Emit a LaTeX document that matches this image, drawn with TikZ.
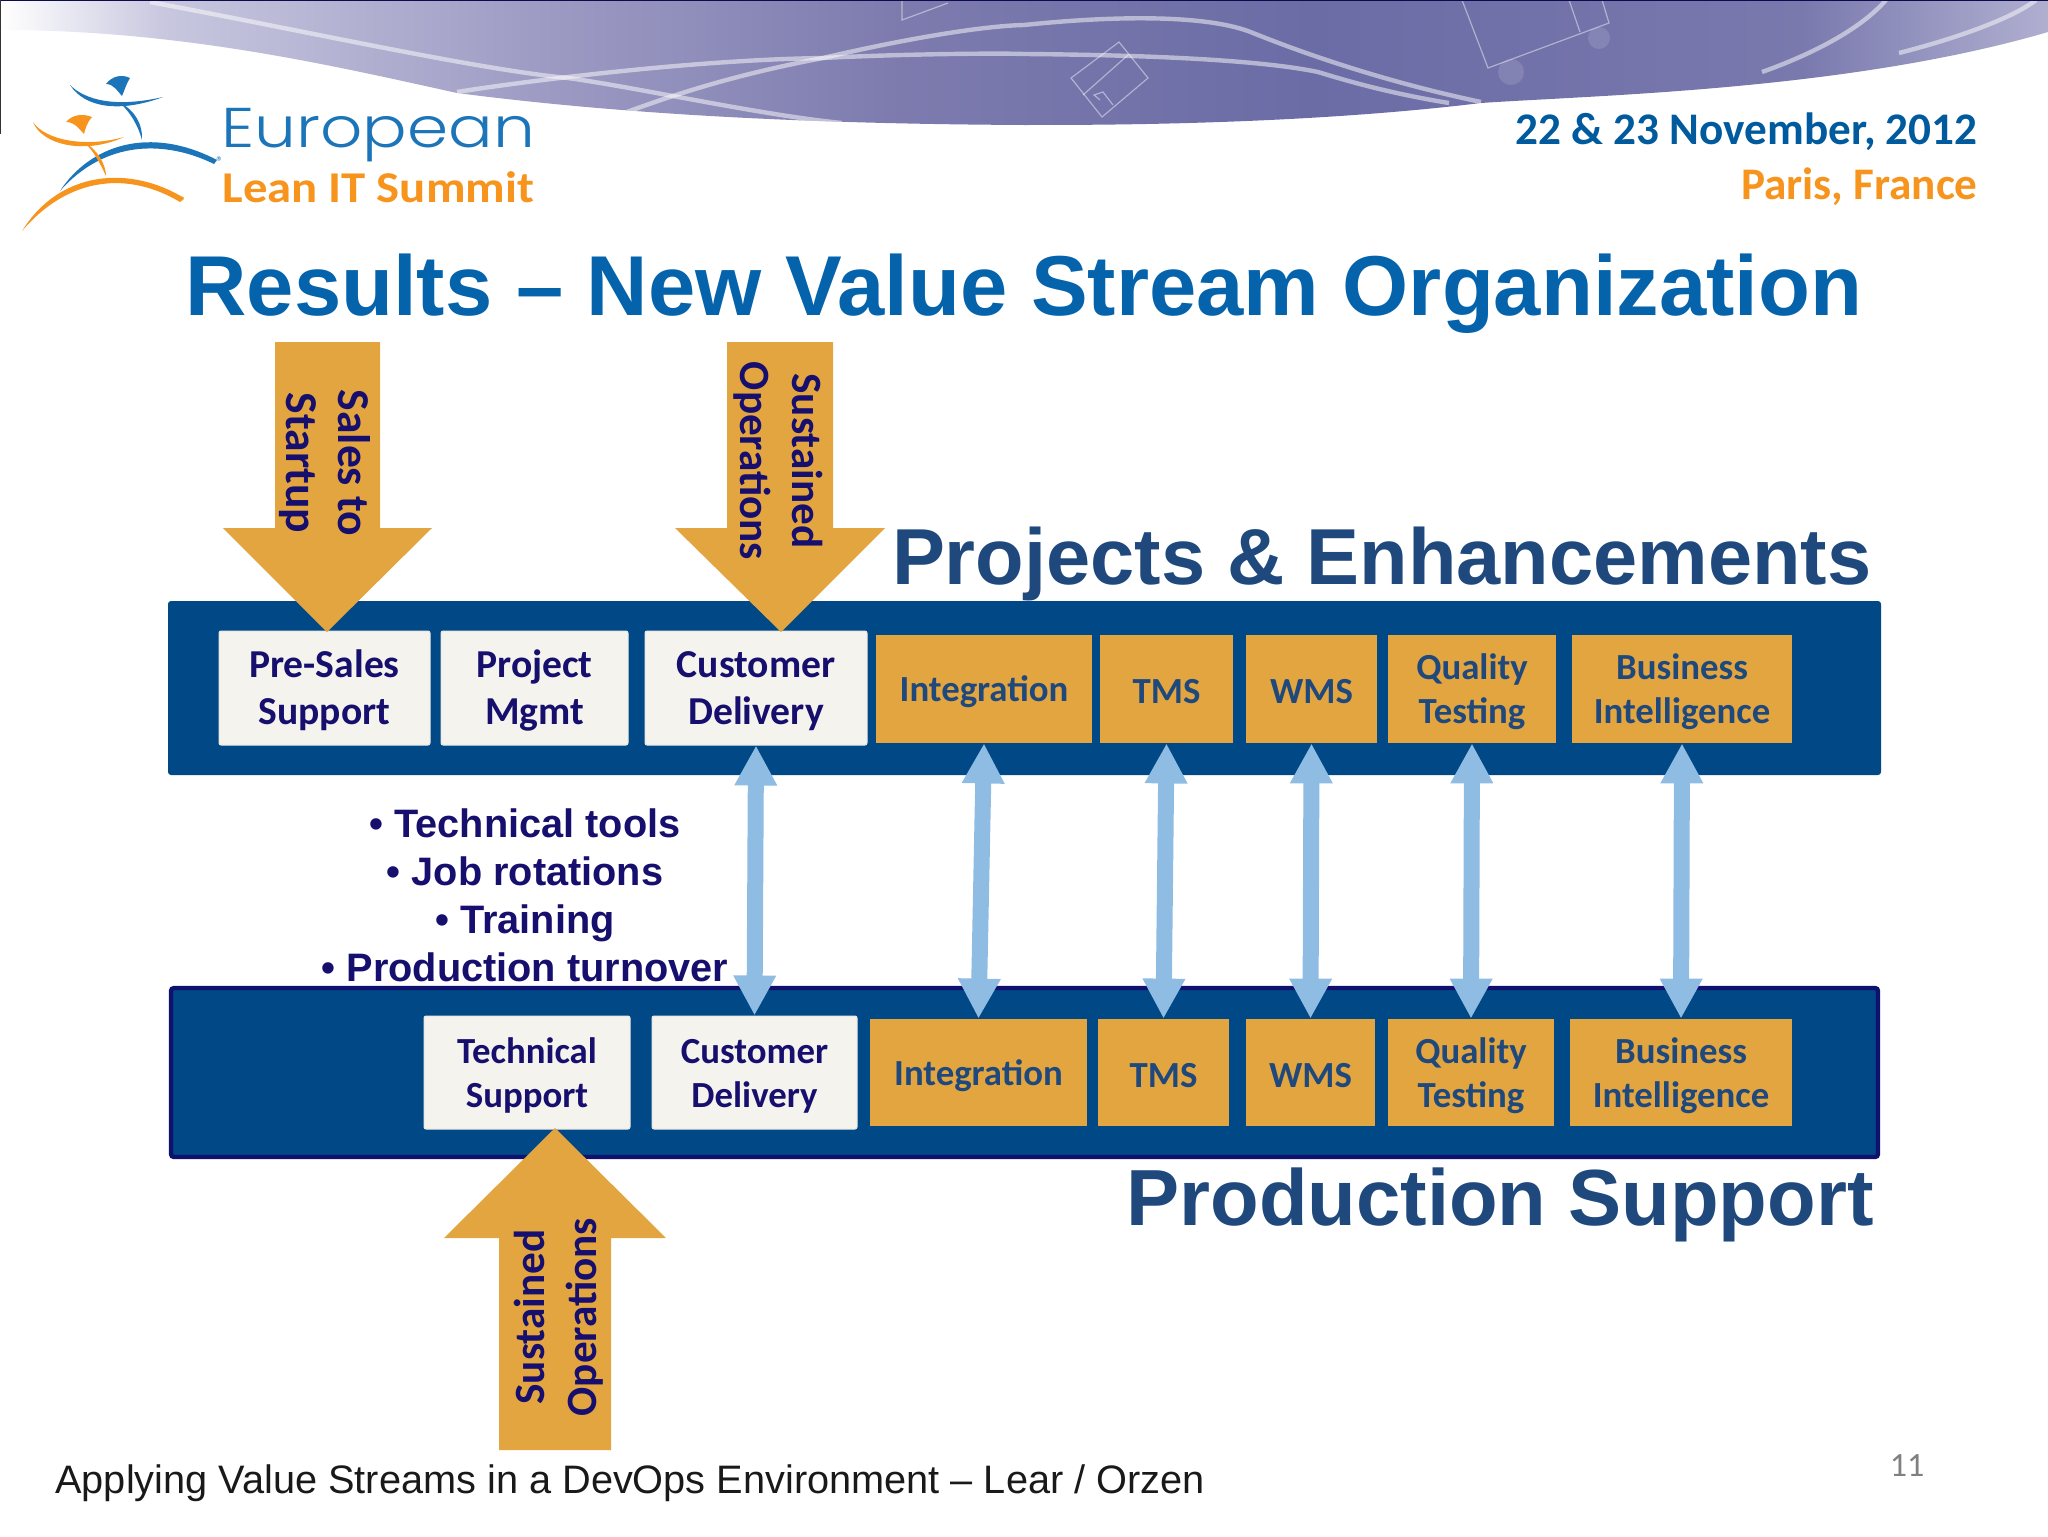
\documentclass[tikz,border=0pt]{standalone}
\usepackage{graphicx}
\usepackage{fontspec}
\usetikzlibrary{arrows.meta}
\setmainfont{Liberation Sans}
\newfontfamily\calb{Carlito}
\newfontfamily\logofont{Poppins Light}
\definecolor{bandblue}{HTML}{014886}
\definecolor{navyline}{HTML}{10106E}
\definecolor{navytext}{HTML}{170F6E}
\definecolor{boxwhite}{HTML}{F4F3ED}
\definecolor{boxedge}{HTML}{E9E8E2}
\definecolor{amber}{HTML}{E3A53F}
\definecolor{steel}{HTML}{1F497D}
\definecolor{sky}{HTML}{8FBCE3}
\definecolor{titleblue}{HTML}{0563AC}
\definecolor{logoblue}{HTML}{1C75B8}
\definecolor{logoorange}{HTML}{F7941D}
\definecolor{dateblue}{HTML}{005A9E}
\definecolor{pa}{HTML}{C8C7DF}
\definecolor{pb}{HTML}{9E9CC4}
\definecolor{pc}{HTML}{7D7BAE}
\definecolor{pd}{HTML}{6B6CA6}
\definecolor{pe}{HTML}{7A79AE}
\definecolor{pf}{HTML}{9595C0}
\definecolor{pg}{HTML}{B0AFD0}
\pgfdeclarehorizontalshading{bandshade}{100bp}{color(0bp)=(white); color(25bp)=(white); color(29bp)=(pa); color(38bp)=(pb); color(47bp)=(pc); color(57bp)=(pd); color(69bp)=(pe); color(72bp)=(pf); color(75bp)=(pg); color(100bp)=(pg)}
\tikzset{
  x=0.5pt,y=-0.5pt,
  wbox/.style={draw=boxedge,line width=0.5pt,fill=boxwhite,rounded corners=1pt,inner sep=0pt,align=center,text=navytext},
  obox/.style={fill=amber,inner sep=0pt,align=center,text=steel},
  big/.style={font={\calb\bfseries\fontsize{19.8}{23.5}\selectfont}},
  small/.style={font={\calb\bfseries\fontsize{18.4}{22}\selectfont}},
  dbl/.style={draw=sky,line width=8pt,{Triangle[length=20pt,width=20pt]}-{Triangle[length=20pt,width=20pt]}},
  block/.style={fill=amber},
  vtext/.style={font={\calb\bfseries\fontsize{21.6}{26}\selectfont},text=navytext,align=center,inner sep=0pt},
  sweep/.style={draw=white,opacity=0.5,line width=2.2pt},
  faint/.style={draw=white,opacity=0.45,line width=0.6pt},
}
\newcommand{\bx}[7]{%
  \pgfmathsetmacro\cxx{(#3+#5)/2}%
  \pgfmathsetmacro\cyy{(#4+#6)/2}%
  \pgfmathsetmacro\ww{(#5-#3)/2}%
  \pgfmathsetmacro\hh{(#6-#4)/2}%
  \node[#1,minimum width=\ww pt,minimum height=\hh pt] (#2) at (\cxx,\cyy) {#7};}
\newcommand{\tpa}{\rule{0pt}{16.2pt}}
\newcommand{\tpb}{\rule{0pt}{16pt}}
\newcommand{\tpc}{\rule{0pt}{14.6pt}}
\begin{document}
\begin{tikzpicture}
\useasboundingbox (0,0) rectangle (2048,1536);
% header band
\begin{scope}
\clip (0,0) -- (2048,0) -- (2048,32) .. controls (1850,90) and (1600,95) .. (1481,103) .. controls (1300,125) and (1100,125) .. (1024,125) .. controls (850,124) and (650,118) .. (457,93) .. controls (330,65) and (180,30) .. (0,30) -- cycle;
\shade[shading=bandshade] (0,0) rectangle (2048,130);
\draw[sweep] (150,2) .. controls (300,30) and (480,70) .. (568,78) .. controls (640,88) and (760,115) .. (842,123);
\draw[sweep] (457,92) .. controls (500,85) and (680,60) .. (823,58) .. controls (900,54) and (1000,53) .. (1024,54) .. controls (1150,55) and (1260,60) .. (1318,72) .. controls (1360,85) and (1400,95) .. (1449,103);
\draw[sweep] (627,112) .. controls (700,85) and (760,70) .. (823,58) .. controls (900,40) and (980,26) .. (1024,25) .. controls (1120,15) and (1210,15) .. (1253,33) .. controls (1320,60) and (1400,85) .. (1481,102);
\draw[sweep] (1762,72) .. controls (1810,55) and (1860,30) .. (1886,0);
\draw[sweep] (1899,53) .. controls (1950,40) and (2010,20) .. (2036,0);
\draw[faint] (1119,42) -- (1148,78) -- (1102,117) -- (1071,78) -- cycle;
\draw[faint] (1128,55) -- (1083,95);
\draw[faint] (1100,100) -- (1094,95) -- (1103,92) -- (1113,105);
\draw[faint] (1462,0) -- (1488,68) -- (1609,23) -- (1602,0);
\draw[faint] (1569,0) -- (1580,32);
\fill[white,opacity=0.12] (1511,72) ellipse (13 and 13);
\fill[white,opacity=0.12] (1599,38) ellipse (11 and 11);
\draw[faint] (902,0) -- (902,20) -- (948,3);
\end{scope}
\draw[navyline!70!black,line width=1pt] (0,0) -- (2048,0);
\draw[black!80,line width=1pt] (0,0) -- (0,134);
% logo
\fill[logoblue] (70,85) .. controls (85,100) and (115,108) .. (163,97) .. controls (120,113) and (85,108) .. (70,85);
\fill[logoblue] (120,103) .. controls (135,110) and (143,125) .. (142,140) .. controls (138,125) and (130,112) .. (120,103);
\fill[logoblue] (106,84) .. controls (112,76) and (122,74) .. (130,78) .. controls (126,84) and (124,92) .. (122,96) .. controls (118,92) and (114,84) .. (106,84);
\fill[logoblue] (60,191) .. controls (90,145) and (150,125) .. (217,160) -- (214,164) .. controls (165,140) and (105,140) .. (60,191);
\fill[logoorange] (33,122) .. controls (45,140) and (85,148) .. (124,137) .. controls (85,155) and (42,145) .. (33,122);
\fill[logoorange] (84,142) .. controls (98,150) and (106,165) .. (106,176) .. controls (100,163) and (93,150) .. (84,142);
\fill[logoorange] (66,122) .. controls (72,115) and (82,113) .. (92,117) .. controls (87,122) and (85,130) .. (84,134) .. controls (80,130) and (75,122) .. (66,122);
\fill[logoorange] (22,231) .. controls (60,170) and (130,165) .. (184,198) -- (180,202) .. controls (130,172) and (70,175) .. (22,231);
\node[text=logoblue,inner sep=0pt,font={\calb\fontsize{7}{7}\selectfont}] (rega) at (220,162) {®};
\node[text=logoorange,inner sep=0pt,font={\calb\fontsize{7}{7}\selectfont}] (regb) at (183,202) {®};
\node[anchor=base west,inner sep=0pt,text=logoblue,font={\logofont\fontsize{28}{28}\selectfont}] (eur) at (221,148) {\scalebox{1.18}[1]{European}};
\node[anchor=base west,inner sep=0pt,text=logoorange,font={\calb\bfseries\fontsize{22}{22}\selectfont}] (lean) at (222,202) {\scalebox{1.107}[1]{Lean IT Summit}};
\node[anchor=base east,inner sep=0pt,text=dateblue,font={\calb\bfseries\fontsize{22.6}{22}\selectfont}] (date) at (1978,144) {22 \& 23 November, 2012};
\node[anchor=base east,inner sep=0pt,text=logoorange,font={\calb\bfseries\fontsize{22.6}{22}\selectfont}] (place) at (1978,199) {Paris, France};
\node[anchor=base,inner sep=0pt,text=titleblue,font={\bfseries\fontsize{42.5}{42}\selectfont}] (title) at (1024,315) {Results – New Value Stream Organization};
% bands
\fill[bandblue,rounded corners=1.5pt] (168,601) rectangle (1881,775);
\draw[fill=bandblue,draw=navyline,line width=2.2pt,rounded corners=1.5pt] (171,988) rectangle (1878,1157);
\node[anchor=base east,inner sep=0pt,text=steel,font={\bfseries\fontsize{39.7}{39}\selectfont}] (proj) at (1872,584) {Projects \& Enhancements};
\node[anchor=base east,inner sep=0pt,text=steel,font={\bfseries\fontsize{39.8}{39}\selectfont}] (prod) at (1874,1225) {Production Support};
% upper boxes
\bx{wbox,big}{a1}{219}{631}{430}{745}{\tpa Pre-Sales\\Support}
\bx{wbox,big}{a2}{441}{631}{628}{745}{\tpa Project\\Mgmt}
\bx{wbox,big}{a3}{645}{631}{867}{745}{\tpa Customer\\Delivery}
\bx{obox,small}{a4}{876}{635}{1092}{743}{\rule{0pt}{16pt}Integration}
\bx{obox,small}{a5}{1100}{635}{1233}{743}{\tpc TMS}
\bx{obox,small}{a6}{1246}{635}{1377}{743}{\tpc WMS}
\bx{obox,small}{a7}{1388}{635}{1556}{743}{\tpb Quality\\Testing}
\bx{obox,small}{a8}{1572}{635}{1792}{743}{\tpb Business\\Intelligence}
% lower boxes
\bx{wbox,small}{b1}{424}{1016}{630}{1129}{\tpb Technical\\Support}
\bx{wbox,small}{b2}{652}{1016}{857}{1129}{\tpb Customer\\Delivery}
\bx{obox,small}{b3}{870}{1019}{1087}{1126}{\rule{0pt}{16.5pt}Integration}
\bx{obox,small}{b4}{1098}{1019}{1229}{1126}{\rule{0pt}{15.5pt}TMS}
\bx{obox,small}{b5}{1246}{1019}{1375}{1126}{\rule{0pt}{15.5pt}WMS}
\bx{obox,small}{b6}{1388}{1019}{1554}{1126}{\tpb Quality\\Testing}
\bx{obox,small}{b7}{1570}{1019}{1792}{1126}{\tpb Business\\Intelligence}
% connectors
\draw[dbl] (a3.south) -- (b2.north);
\draw[dbl] (a4.south) -- (b3.north);
\draw[dbl] (a5.south) -- (b4.north);
\draw[dbl] (a6.south) -- (b5.north);
\draw[dbl] (a7.south) -- (b6.north);
\draw[dbl] (a8.south) -- (b7.north);
% block arrows
\fill[block] (275,342) -- (380,342) -- (380,528) -- (432,528) -- (327,632) -- (223,528) -- (275,528) -- cycle;
\fill[block] (727,342) -- (833,342) -- (833,528) -- (885,528) -- (781,632) -- (675,528) -- (727,528) -- cycle;
\fill[block] (499,1450) -- (611,1450) -- (611,1238) -- (666,1238) -- (555,1128) -- (444,1238) -- (499,1238) -- cycle;
\node[vtext,rotate=-90,font={\calb\bfseries\fontsize{22.8}{26}\selectfont}] (s1) at (325,463) {Sales to\\Startup};
\node[vtext,rotate=-90] (s2) at (778,461) {Sustained\\Operations};
\node[vtext,rotate=90] (s3) at (559,1317) {Sustained\\Operations};
% bullet text
\node[inner sep=0pt,align=center,text=navytext,font={\bfseries\fontsize{19.85}{24}\selectfont}] (list) at (525,895) {• Technical tools\\• Job rotations\\• Training\\• Production turnover};
% footer
\node[anchor=base west,inner sep=0pt,text=black!90,font={\fontsize{19.86}{20}\selectfont}] (foot) at (55,1493) {Applying Value Streams in a DevOps Environment – Lear / Orzen};
\node[inner sep=0pt,text=black!50,font={\calb\fontsize{17}{17}\selectfont}] (page) at (1907,1466) {11};
\end{tikzpicture}
\end{document}
